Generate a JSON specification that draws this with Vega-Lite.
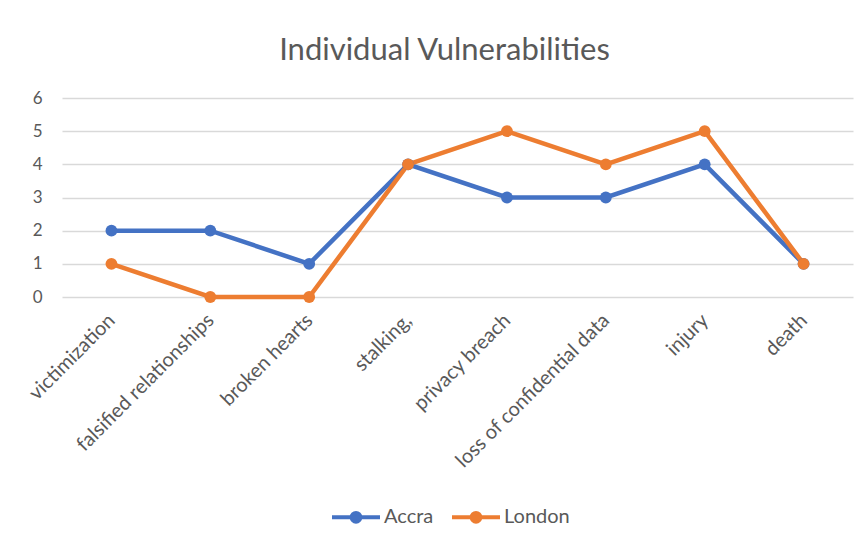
{
  "$schema": "https://vega.github.io/schema/vega-lite/v6.json",
  "width": 791,
  "height": 199,
  "autosize": "none",
  "padding": {"left": 62, "top": 98, "right": 11, "bottom": 248},
  "background": "white",
  "title": {
    "text": "Individual Vulnerabilities",
    "font": "Lato",
    "fontSize": 31,
    "fontWeight": "normal",
    "color": "#595959",
    "anchor": "middle",
    "frame": "group",
    "baseline": "alphabetic",
    "offset": -2,
    "dx": -13
  },
  "data": {
    "values": [
      {"category": "victimization", "series": "Accra", "value": 2},
      {"category": "falsified relationships", "series": "Accra", "value": 2},
      {"category": "broken hearts", "series": "Accra", "value": 1},
      {"category": "stalking,", "series": "Accra", "value": 4},
      {"category": "privacy breach", "series": "Accra", "value": 3},
      {"category": "loss of confidential data", "series": "Accra", "value": 3},
      {"category": "injury", "series": "Accra", "value": 4},
      {"category": "death", "series": "Accra", "value": 1},
      {"category": "victimization", "series": "London", "value": 1},
      {"category": "falsified relationships", "series": "London", "value": 0},
      {"category": "broken hearts", "series": "London", "value": 0},
      {"category": "stalking,", "series": "London", "value": 4},
      {"category": "privacy breach", "series": "London", "value": 5},
      {"category": "loss of confidential data", "series": "London", "value": 4},
      {"category": "injury", "series": "London", "value": 5},
      {"category": "death", "series": "London", "value": 1}
    ]
  },
  "mark": {
    "type": "line",
    "strokeWidth": 4.5,
    "point": {"filled": true, "size": 140, "opacity": 1}
  },
  "encoding": {
    "x": {
      "field": "category",
      "type": "nominal",
      "sort": null,
      "scale": {"type": "point", "padding": 0.5},
      "axis": {
        "title": null,
        "labelAngle": -45,
        "labelAlign": "right",
        "labelBaseline": "middle",
        "labelFont": "Lato",
        "labelFontSize": 20,
        "labelColor": "#595959",
        "labelPadding": 20,
        "labelLimit": 400,
        "ticks": false,
        "domain": false,
        "grid": false
      }
    },
    "y": {
      "field": "value",
      "type": "quantitative",
      "scale": {"domain": [0, 6], "nice": false},
      "axis": {
        "title": null,
        "values": [0, 1, 2, 3, 4, 5, 6],
        "labelFont": "Lato",
        "labelFontSize": 17,
        "labelColor": "#595959",
        "labelPadding": 20,
        "ticks": false,
        "domain": false,
        "grid": true,
        "gridColor": "#D9D9D9",
        "gridWidth": 1.3
      }
    },
    "color": {
      "field": "series",
      "type": "nominal",
      "scale": {"domain": ["Accra", "London"], "range": ["#4472C4", "#ED7D31"]},
      "legend": {
        "title": null,
        "orient": "none",
        "legendX": 268,
        "legendY": 393,
        "direction": "horizontal",
        "labelFont": "Lato",
        "labelFontSize": 20,
        "labelColor": "#595959",
        "labelOffset": 2,
        "columnPadding": 10,
        "symbolType": "M -1 0 L 1 0 M -0.18 0 A 0.18 0.18 0 1 1 0.18 0 A 0.18 0.18 0 1 1 -0.18 0 Z",
        "symbolSize": 2304,
        "symbolStrokeWidth": 4,
        "encode": {
          "symbols": {"update": {"fill": {"scale": "color", "field": "value"}, "fillOpacity": {"value": 1}, "opacity": {"value": 1}}}
        }
      }
    }
  },
  "config": {"view": {"stroke": null}}
}
